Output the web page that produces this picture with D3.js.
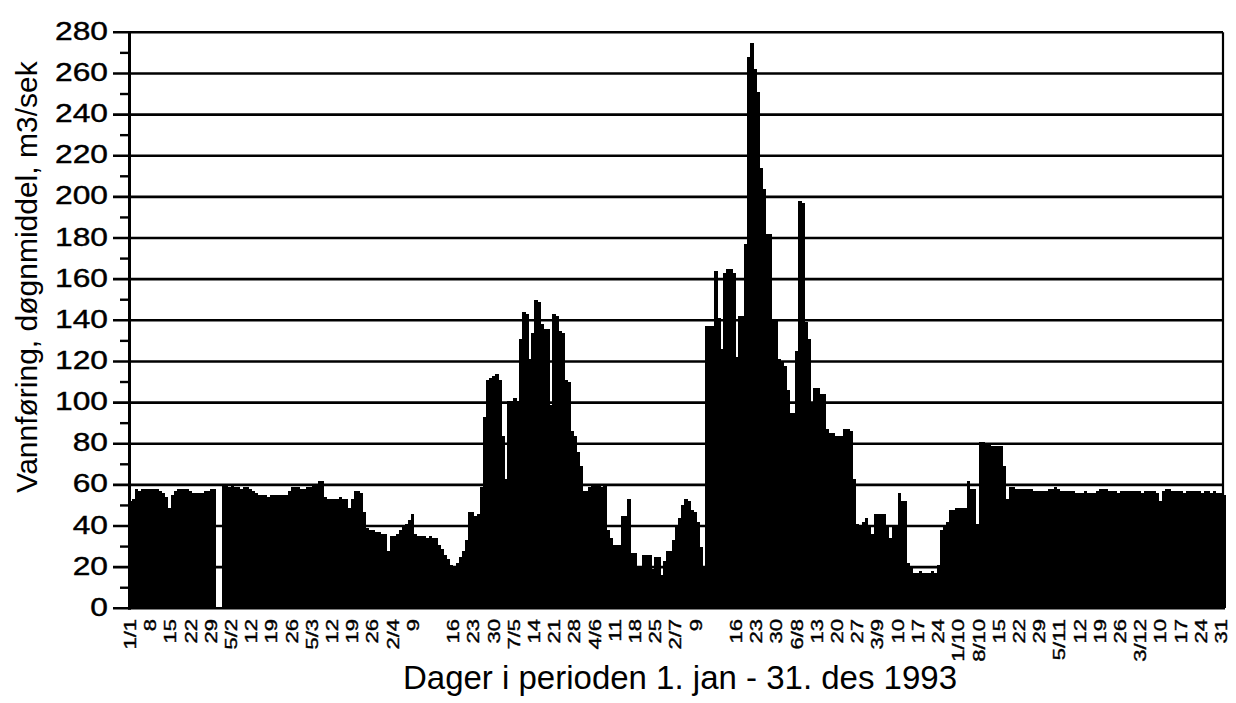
<!DOCTYPE html>
<html>
<head>
<meta charset="utf-8">
<script src="https://cdn.jsdelivr.net/npm/d3@7"></script>
<style>
  html, body { margin: 0; padding: 0; background: #fff; }
  svg { display: block; font-family: "Liberation Sans", Arial, Helvetica, sans-serif; }
</style>
</head>
<body>
<div id="chart"></div>
<script>
// daily mean discharge (m3/s), one array per month, null = no data
var jan = [52,53,58,57,58,58,58,58,58,58,57,56,54,49,55,57,58,58,58,58,57,56,56,56,56,57,57,58,58,null,null];
var feb = [60,60,59,60,59,59,58,59,59,58,57,56,55,55,55,54,55,55,55,55,55,55,57,59,59,59,58,58];
var mar = [59,59,60,60,62,62,54,53,53,53,53,54,53,53,49,53,57,57,56,47,39,38,38,37,37,36,36,28,35,35,36];
var apr = [38,40,41,43,46,36,35,35,35,34,35,34,34,31,29,26,24,21,20,22,25,28,33,47,47,45,46,59,93,111];
var may = [112,113,114,111,84,63,101,101,102,101,131,144,143,121,134,150,149,138,136,136,99,143,142,135,134,111,110,86,84,76,69];
var jun = [57,57,59,60,60,60,59,60,38,34,31,31,31,45,45,53,27,27,20,20,26,26,26,19,25,25,16,23,28,28];
var jul = [33,40,44,50,53,52,48,47,42,30,20,137,137,137,164,141,126,163,165,165,163,122,142,142,177,268,275,262,251,214,204];
var aug = [182,182,140,140,121,120,118,106,95,95,125,198,197,139,131,100,107,107,104,104,87,85,85,84,84,84,87,87,86,63,41];
var sep = [40,42,44,40,36,46,46,46,46,40,34,40,40,56,52,52,22,20,17,17,18,17,17,17,18,17,21,38,40,42];
var oct = [48,48,49,49,49,49,62,58,58,41,81,81,80,80,79,79,79,79,69,53,59,59,58,58,58,58,58,58,57,57,57];
var nov = [57,57,58,58,59,58,57,57,57,57,57,56,56,56,57,56,56,56,57,58,58,58,57,57,57,56,57,57,57,57];
var dec = [57,57,57,56,57,57,57,57,56,52,57,58,58,57,57,57,57,56,57,57,57,57,57,56,57,57,56,57,56,56,55];

// weekly tick labels as printed under the axis ("" = empty slot)
var tickLabels = ["1/1","8","15","22","29","5/2","12","19","26","5/3","12","19","26","2/4","9","","16","23","30",
  "7/5","14","21","28","4/6","11","18","25","2/7","9","","16","23","30","6/8","13","20","27","3/9","10","17","24",
  "1/10","8/10","15","22","29","5/11","12","19","26","3/12","10","17","24","31"];

var yMax = 280;
var yTitle = "Vannføring, døgnmiddel, m3/sek";
var xTitle = "Dager i perioden 1. jan - 31. des 1993";

function drawChart() {
  var values = [].concat(jan, feb, mar, apr, may, jun, jul, aug, sep, oct, nov, dec);
  var days = values.map(function(v, i) { return { day: i, value: v }; });

  var W = 1236, H = 703;
  // note: don't call these "top" etc. at global scope, window.top is read-only
  var plotLeft = 129.5, plotRight = 1223, plotTop = 32.3, plotBottom = 608.3;

  var svg = d3.select("#chart").append("svg")
    .attr("width", W).attr("height", H);

  var x = d3.scaleBand().domain(d3.range(values.length)).range([128.5, 1225]).padding(0);
  var y = d3.scaleLinear().domain([0, yMax]).range([plotBottom, plotTop]);
  var xLab = d3.scalePoint().domain(d3.range(tickLabels.length)).range([130, 1221]);

  // grid lines every 20, they also act as the major ticks
  svg.append("g").selectAll("line")
    .data(d3.range(0, yMax + 1, 20))
    .enter().append("line")
    .attr("x1", 113).attr("x2", function(d) { return d === 0 ? 1225 : plotRight; })
    .attr("y1", function(d) { return y(d); }).attr("y2", function(d) { return y(d); })
    .attr("stroke", "#000").attr("stroke-width", 2.6);

  // minor ticks
  svg.append("g").selectAll("line")
    .data(d3.range(10, yMax, 20))
    .enter().append("line")
    .attr("x1", 120).attr("x2", plotLeft)
    .attr("y1", function(d) { return y(d); }).attr("y2", function(d) { return y(d); })
    .attr("stroke", "#000").attr("stroke-width", 2.4);

  // bars (a bit of overlap so no seams show between neighbours)
  svg.append("g").selectAll("rect")
    .data(days.filter(function(d) { return d.value != null; }))
    .enter().append("rect")
    .attr("x", function(d) { return x(d.day); })
    .attr("width", x.bandwidth() + 0.5)
    .attr("y", function(d) { return y(d.value); })
    .attr("height", function(d) { return y(0) - y(d.value); })
    .attr("fill", "#000")
    .attr("shape-rendering", "crispEdges");

  // frame: left axis and right border
  svg.append("line")
    .attr("x1", plotLeft).attr("x2", plotLeft).attr("y1", plotTop - 1).attr("y2", plotBottom + 1.5)
    .attr("stroke", "#000").attr("stroke-width", 3);
  svg.append("line")
    .attr("x1", plotRight).attr("x2", plotRight).attr("y1", plotTop).attr("y2", plotBottom)
    .attr("stroke", "#000").attr("stroke-width", 2.2);

  // y tick labels
  svg.append("g").selectAll("text")
    .data(d3.range(0, yMax + 1, 20))
    .enter().append("text")
    .attr("transform", function(d) { return "translate(108," + y(d) + ") scale(1.27,1)"; })
    .attr("dy", "0.3em")
    .attr("text-anchor", "end")
    .attr("font-size", 25)
    .attr("stroke", "#000").attr("stroke-width", 0.4)
    .text(function(d) { return d; });

  // x tick labels, rotated
  svg.append("g").selectAll("text")
    .data(tickLabels)
    .enter().append("text")
    .attr("transform", function(d, i) { return "translate(" + xLab(i) + ",619) rotate(-90) scale(1,0.75)"; })
    .attr("dy", "0.36em")
    .attr("text-anchor", "end")
    .attr("font-size", 22)
    .attr("stroke", "#000").attr("stroke-width", 0.5)
    .text(function(d) { return d; });

  // axis titles
  svg.append("text")
    .attr("transform", "translate(37,277) rotate(-90)")
    .attr("text-anchor", "middle")
    .attr("font-size", 30)
    .text(yTitle);

  svg.append("text")
    .attr("x", 680).attr("y", 689)
    .attr("text-anchor", "middle")
    .attr("font-size", 33)
    .text(xTitle);
}

drawChart();
</script>
</body>
</html>
